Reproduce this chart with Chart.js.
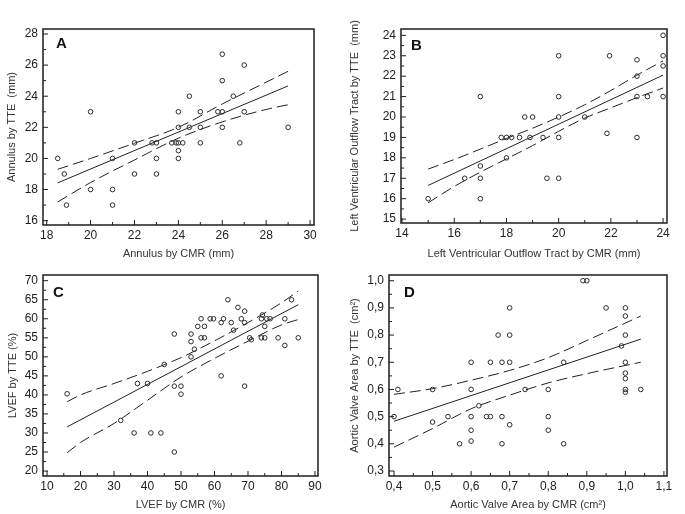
<!DOCTYPE html>
<html>
<head>
<meta charset="utf-8">
<script src="https://cdn.jsdelivr.net/npm/chart.js@4.4.1/dist/chart.umd.min.js"></script>
<style>
    body { margin: 0; background: #ffffff; }
    #quadro { position: relative; width: 685px; height: 514px; }
    canvas { position: absolute; }
</style>
</head>
<body>
<div id="quadro">
    <canvas id="graficoA" width="340" height="262" style="left:0;top:0"></canvas>
    <canvas id="graficoB" width="345" height="262" style="left:340px;top:0"></canvas>
    <canvas id="graficoC" width="340" height="252" style="left:0;top:262px"></canvas>
    <canvas id="graficoD" width="345" height="252" style="left:340px;top:262px"></canvas>
</div>
<script>
// ---- A: Annulus (mm)
const annulusCMR = [18.5, 18.8, 18.9, 20, 20, 21, 21, 21, 22, 22, 22.8, 23, 23, 23, 23.7, 23.9, 24, 24, 24, 24.2, 24, 24, 24.5, 24.5, 25, 25, 25, 25.8, 26, 26, 26, 26, 26.5, 26.8, 27, 27, 29];
const annulusTTE = [20, 19, 17, 23, 18, 20, 18, 17, 21, 19, 21, 21, 20, 19, 21, 21, 23, 22, 21, 21, 20.5, 20, 24, 22, 23, 22, 21, 23, 26.7, 25, 23, 22, 24, 21, 26, 23, 22];
const annulusRetaX = [18.5, 29];
const annulusRetaY = [18.43, 24.66];
const annulusIcX = [18.5, 20, 22, 24, 26, 28, 29];
const annulusIcSup = [19.3, 20.0, 20.98, 22.0, 23.5, 24.9, 25.6];
const annulusIcInf = [17.2, 18.45, 19.9, 21.3, 22.35, 23.15, 23.45];
const annulusTicksX = [18, 20, 22, 24, 26, 28, 30];
const annulusTicksY = [16, 18, 20, 22, 24, 26, 28];

// ---- B: LVOT (mm)
const lvotCMR = [15, 16.4, 17, 17, 17, 17, 18, 17.8, 18, 18.2, 18.5, 18.7, 19, 18.9, 19.4, 19.55, 20, 20, 20, 20, 20, 21, 21.85, 21.95, 23, 23, 23, 23, 23.4, 24, 24, 24, 24];
const lvotTTE = [16, 17, 21, 17.6, 17, 16, 18, 19, 19, 19, 19, 20, 20, 19, 19, 17, 23, 21, 20, 19, 17, 20, 19.2, 23, 22.8, 22, 21, 19, 21, 24, 23, 22.5, 21];
const lvotRetaX = [15, 24];
const lvotRetaY = [16.65, 22.05];
const lvotIcX = [15, 16, 17, 18, 19, 20, 21, 22, 23, 24];
const lvotIcSup = [17.45, 17.92, 18.43, 18.95, 19.45, 20.0, 20.6, 21.3, 22.05, 22.75];
const lvotIcInf = [15.8, 16.6, 17.3, 17.95, 18.6, 19.3, 19.95, 20.45, 20.95, 21.42];
const lvotTicksX = [14, 16, 18, 20, 22, 24];
const lvotTicksY = [15, 16, 17, 18, 19, 20, 21, 22, 23, 24];

// ---- C: LVEF (%)
const lvefCMR = [16, 32, 36, 37, 40, 41, 44, 45, 48, 48, 48, 50, 50, 54, 53, 53, 53, 55, 56, 56, 57, 57, 58.7, 59.7, 62, 62.7, 62, 64, 65, 65.7, 67, 68, 69, 69, 69, 70.5, 71, 74, 74.3, 74, 75, 75, 75.6, 76.6, 79, 81, 81, 83, 85];
const lvefTTE = [40.3, 33.3, 30, 43, 43, 30, 30, 48, 56, 42.3, 25, 42.3, 40.2, 52, 56, 54, 50, 58, 60, 55, 55, 58, 60, 60, 59, 60, 45, 65, 59, 57, 63, 60, 62, 59, 42.3, 55, 54.5, 60, 61, 55, 58, 55, 60, 60, 55, 60, 53, 65, 55];
const lvefRetaX = [16, 85];
const lvefRetaY = [31.6, 63.7];
const lvefIcX = [16, 20, 30, 40, 50, 60, 70, 80, 85];
const lvefIcSup = [38.2, 40.0, 43.0, 46.2, 49.8, 54.2, 59.0, 64.2, 67.3];
const lvefIcInf = [24.8, 27.5, 32.5, 38.6, 44.7, 49.6, 54.1, 58.4, 59.8];
const lvefTicksX = [10, 20, 30, 40, 50, 60, 70, 80, 90];
const lvefTicksY = [20, 25, 30, 35, 40, 45, 50, 55, 60, 65, 70];

// ---- D: Aortic valve area (cm2)
const avaCMR = [0.40, 0.41, 0.50, 0.50, 0.54, 0.57, 0.60, 0.60, 0.60, 0.60, 0.60, 0.62, 0.64, 0.65, 0.65, 0.67, 0.68, 0.68, 0.68, 0.70, 0.70, 0.70, 0.70, 0.74, 0.80, 0.80, 0.80, 0.84, 0.84, 0.89, 0.90, 0.95, 0.99, 1.0, 1.0, 1.0, 1.0, 1.0, 1.0, 1.0, 1.0, 1.04];
const avaTTE = [0.50, 0.60, 0.60, 0.48, 0.50, 0.40, 0.70, 0.60, 0.50, 0.45, 0.41, 0.54, 0.50, 0.50, 0.70, 0.80, 0.70, 0.50, 0.40, 0.90, 0.80, 0.70, 0.47, 0.60, 0.60, 0.50, 0.45, 0.70, 0.40, 1.0, 1.0, 0.90, 0.76, 0.90, 0.87, 0.80, 0.70, 0.66, 0.64, 0.60, 0.59, 0.60];
const avaRetaX = [0.40, 1.04];
const avaRetaY = [0.483, 0.785];
const avaIcX = [0.40, 0.50, 0.60, 0.70, 0.80, 0.90, 1.04];
const avaIcSup = [0.582, 0.603, 0.634, 0.670, 0.717, 0.780, 0.870];
const avaIcInf = [0.388, 0.456, 0.529, 0.579, 0.624, 0.658, 0.700];
const avaTicksX = [0.4, 0.5, 0.6, 0.7, 0.8, 0.9, 1.0, 1.1];
const avaTicksY = [0.3, 0.4, 0.5, 0.6, 0.7, 0.8, 0.9, 1.0];

const fonte = 'Arial, "Liberation Sans", sans-serif';

function pares(xs, ys) {
    return xs.map((v, i) => ({ x: v, y: ys[i] }));
}

function meios(valores) {
    let m = [];
    for (let i = 0; i < valores.length - 1; i++) m.push((valores[i] + valores[i + 1]) / 2);
    return m;
}

// moldura, ticks para dentro e letra do painel
const molduraPlugin = {
    id: 'moldura',
    afterDatasetsDraw(chart, args, opts) {
        const { ctx, chartArea: a, scales } = chart;
        ctx.save();
        ctx.strokeStyle = '#1e1e1e';
        ctx.lineWidth = 1;
        ctx.beginPath();
        const tx = opts.ticksX, ty = opts.ticksY;
        tx.forEach(v => { let p = scales.x.getPixelForValue(v); ctx.moveTo(p, a.bottom); ctx.lineTo(p, a.bottom - 5); });
        meios(tx).forEach(v => { let p = scales.x.getPixelForValue(v); ctx.moveTo(p, a.bottom); ctx.lineTo(p, a.bottom - 3); });
        ty.forEach(v => { let p = scales.y.getPixelForValue(v); ctx.moveTo(a.left, p); ctx.lineTo(a.left + 5, p); });
        meios(ty).forEach(v => { let p = scales.y.getPixelForValue(v); ctx.moveTo(a.left, p); ctx.lineTo(a.left + 3, p); });
        ctx.stroke();

        ctx.lineWidth = 1.5;
        ctx.strokeRect(a.left, a.top, a.right - a.left, a.bottom - a.top);

        ctx.fillStyle = '#111';
        ctx.font = 'bold 15px ' + fonte;
        ctx.textBaseline = 'alphabetic';
        ctx.fillText(opts.letra, a.left + opts.dx, a.top + opts.dy);
        ctx.restore();
    }
};

function criarPainel(p) {
    const canvas = document.getElementById(p.id);
    const W = canvas.width, H = canvas.height;

    const estiloLinha = { showLine: true, pointRadius: 0, borderColor: '#222', borderWidth: 1, fill: false };

    new Chart(canvas, {
        type: 'scatter',
        data: {
            datasets: [
                {
                    data: pares(p.xs, p.ys),
                    pointRadius: 2.3,
                    pointBorderWidth: 1,
                    borderColor: '#2b2b2b',
                    backgroundColor: 'rgba(0,0,0,0)'
                },
                Object.assign({ data: pares(p.retaX, p.retaY) }, estiloLinha),
                Object.assign({ data: pares(p.icX, p.icSup), borderDash: [11, 5], cubicInterpolationMode: 'monotone' }, estiloLinha),
                Object.assign({ data: pares(p.icX, p.icInf), borderDash: [11, 5], cubicInterpolationMode: 'monotone' }, estiloLinha)
            ]
        },
        options: {
            responsive: false,
            animation: false,
            events: [],
            layout: { padding: { left: 0, top: p.area[1], right: W - p.area[2], bottom: 0 } },
            plugins: {
                legend: { display: false },
                tooltip: { enabled: false },
                moldura: { ticksX: p.ticksX, ticksY: p.ticksY, letra: p.letra, dx: p.letraPos[0], dy: p.letraPos[1] }
            },
            scales: {
                x: {
                    type: 'linear',
                    min: p.limX[0], max: p.limX[1],
                    afterBuildTicks: s => { s.ticks = p.ticksX.map(v => ({ value: v })); },
                    afterFit: s => { s.height = H - p.area[3]; },
                    grid: { display: false, drawTicks: false },
                    border: { display: false },
                    ticks: { padding: 3, maxRotation: 0, autoSkip: false, color: '#222', font: { family: fonte, size: 12 }, callback: p.rotulo },
                    title: { display: true, text: p.tituloX, color: '#333', font: { family: fonte, size: 11 }, padding: { top: 0, bottom: p.padTitX } }
                },
                y: {
                    type: 'linear',
                    min: p.limY[0], max: p.limY[1],
                    afterBuildTicks: s => { s.ticks = p.ticksY.map(v => ({ value: v })); },
                    afterFit: s => { s.width = p.area[0]; },
                    grid: { display: false, drawTicks: false },
                    border: { display: false },
                    ticks: { padding: 5, autoSkip: false, color: '#222', font: { family: fonte, size: 12 }, callback: p.rotulo },
                    title: { display: true, text: p.tituloY, color: '#333', font: { family: fonte, size: 11 }, padding: { top: p.padTitY, bottom: 0 } }
                }
            }
        },
        plugins: [molduraPlugin]
    });
}

const inteiro = v => String(v);
const virgula = v => v.toFixed(1).replace('.', ',');

criarPainel({
    id: 'graficoA', letra: 'A', letraPos: [13, 19],
    xs: annulusCMR, ys: annulusTTE, retaX: annulusRetaX, retaY: annulusRetaY,
    icX: annulusIcX, icSup: annulusIcSup, icInf: annulusIcInf,
    ticksX: annulusTicksX, ticksY: annulusTicksY,
    limX: [17.83, 30.18], limY: [15.72, 28.32],
    area: [43, 29, 314, 225],
    tituloX: 'Annulus by CMR (mm)', tituloY: 'Annulus by TTE  (mm)',
    padTitX: 1, padTitY: 5, rotulo: inteiro
});

criarPainel({
    id: 'graficoB', letra: 'B', letraPos: [10, 21],
    xs: lvotCMR, ys: lvotTTE, retaX: lvotRetaX, retaY: lvotRetaY,
    icX: lvotIcX, icSup: lvotIcSup, icInf: lvotIcInf,
    ticksX: lvotTicksX, ticksY: lvotTicksY,
    limX: [13.96, 24.15], limY: [14.81, 24.31],
    area: [61, 29, 327, 223],
    tituloX: 'Left Ventricular Outflow Tract by CMR (mm)', tituloY: 'Left Ventricular Outflow Tract by TTE  (mm)',
    padTitX: 1, padTitY: 8, rotulo: inteiro
});

criarPainel({
    id: 'graficoC', letra: 'C', letraPos: [10, 21.5],
    xs: lvefCMR, ys: lvefTTE, retaX: lvefRetaX, retaY: lvefRetaY,
    icX: lvefIcX, icSup: lvefIcSup, icInf: lvefIcInf,
    ticksX: lvefTicksX, ticksY: lvefTicksY,
    limX: [8.8, 90.9], limY: [18.7, 71.5],
    area: [43, 13, 318, 214],
    tituloX: 'LVEF by CMR (%)', tituloY: 'LVEF by TTE (%)',
    padTitX: 2.5, padTitY: 6, rotulo: inteiro
});

criarPainel({
    id: 'graficoD', letra: 'D', letraPos: [15, 21.5],
    xs: avaCMR, ys: avaTTE, retaX: avaRetaX, retaY: avaRetaY,
    icX: avaIcX, icSup: avaIcSup, icInf: avaIcInf,
    ticksX: avaTicksX, ticksY: avaTicksY,
    limX: [0.387, 1.108], limY: [0.2816, 1.021],
    area: [49, 13, 327, 214],
    tituloX: 'Aortic Valve Area by CMR (cm²)', tituloY: 'Aortic Valve Area by TTE  (cm²)',
    padTitX: 2.5, padTitY: 8, rotulo: virgula
});
</script>
</body>
</html>
